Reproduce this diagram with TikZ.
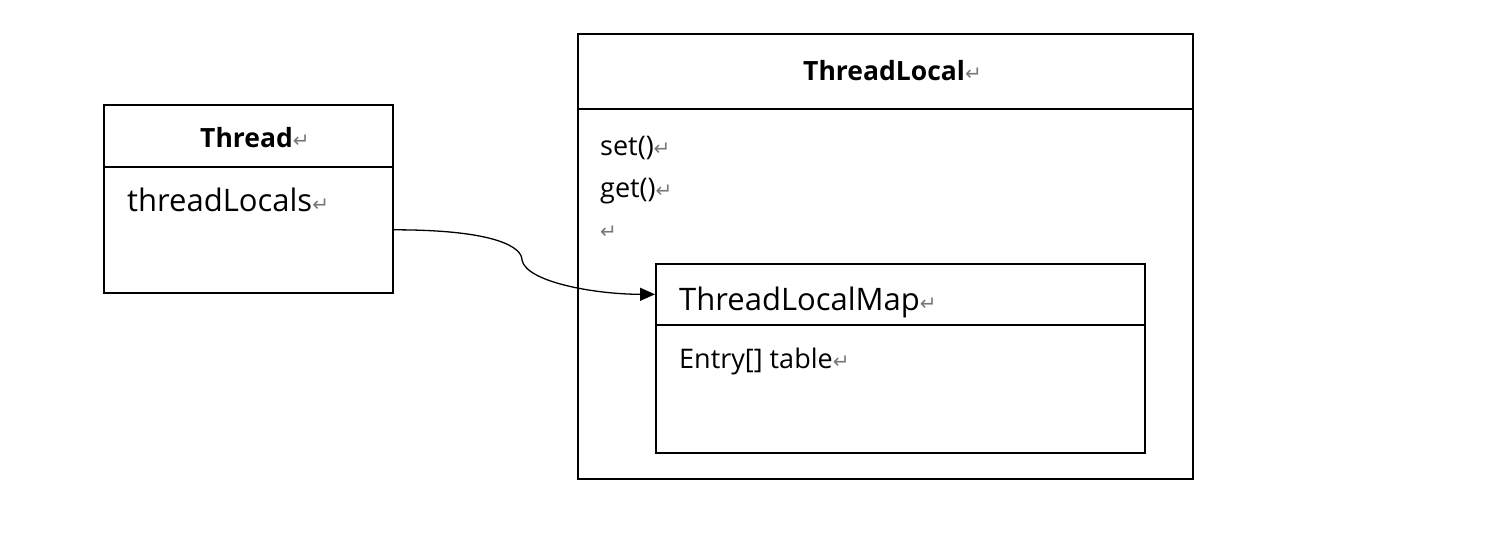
\documentclass[tikz,border=0pt]{standalone}
\usepackage{fontspec}
\setmainfont{Open Sans}
\newfontfamily\symfont{DejaVu Sans}
\usetikzlibrary{arrows.meta}
\definecolor{markgrey}{RGB}{120,120,120}
\tikzset{
  x=1pt, y=-1pt,
  part/.style={draw, line width=1.6pt, inner sep=0pt, anchor=north west},
  big/.style={anchor=base west, inner sep=0pt, font=\fontsize{31}{36}\selectfont},
  small/.style={anchor=base west, inner sep=0pt, font=\fontsize{27}{32}\selectfont},
  title/.style={anchor=base west, inner sep=0pt, font=\fontsize{26.5}{32}\selectfont\bfseries},
  link/.style={line width=1.3pt, -{Triangle[length=15pt,width=13pt]}}
}
\newcommand{\pmark}{\textcolor{markgrey}{\symfont\fontsize{20}{24}\selectfont\mdseries ↵}}
\begin{document}
\begin{tikzpicture}
\useasboundingbox (0,0) rectangle (1490,544);
% Thread class
\node[part, minimum width=289pt, minimum height=62pt] (thHead) at (103,104) {};
\node[part, minimum width=289pt, minimum height=126pt] (thBody) at (103,166) {};
\node[title] (thName) at (200,147) {Thread\pmark};
\node[big] (thField) at (127,211) {threadLocals\pmark};
% ThreadLocal class
\node[part, minimum width=615pt, minimum height=75pt] (tlHead) at (577,33) {};
\node[part, minimum width=615pt, minimum height=370pt] (tlBody) at (577,108) {};
\node[title] (tlName) at (803,80) {ThreadLocal\pmark};
\node[small] (tlSet) at (600,155) {set()\pmark};
\node[small] (tlGet) at (600,197) {get()\pmark};
\node[small] (tlBlank) at (600,238) {\pmark};
% ThreadLocalMap inside ThreadLocal
\node[part, minimum width=489pt, minimum height=61pt] (mapHead) at (655,263) {};
\node[part, minimum width=489pt, minimum height=128pt] (mapBody) at (655,324) {};
\node[big] (mapName) at (679,310) {ThreadLocalMap\pmark};
\node[small] (mapField) at (679,368) {Entry[] table\pmark};
% reference from Thread to the map
\draw[link] (thBody.east) .. controls +(105,0) and +(0,-12) .. (522,260)
  .. controls +(4,22) and +(-60,0) .. (mapHead.west);
\end{tikzpicture}
\end{document}
